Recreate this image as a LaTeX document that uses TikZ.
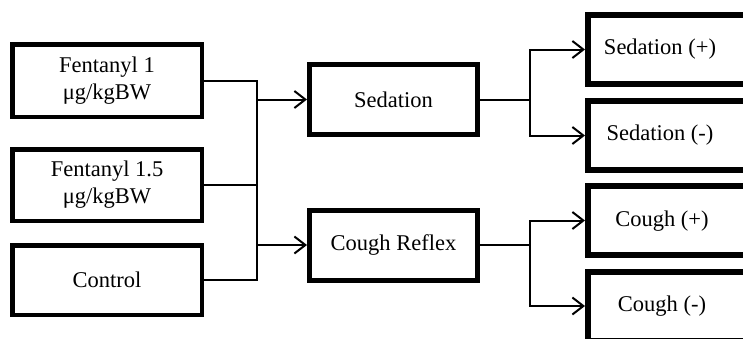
\documentclass[tikz,border=0pt]{standalone}
\usepackage{fontspec}
\setmainfont{Liberation Serif}
\usetikzlibrary{arrows.meta}
\begin{document}
\begin{tikzpicture}[x=1pt,y=-1pt,
  every node/.style={font=\fontsize{22.5}{27}\selectfont, align=center, inner sep=0pt},
  lbox/.style={draw, line width=4.5pt, minimum width=189.5pt},
  mbox/.style={draw, line width=5pt, minimum width=168pt, minimum height=70pt},
  rbox/.style={draw, line width=6pt, minimum width=220pt, minimum height=69pt, anchor=west},
  conn/.style={line width=2pt},
  arr/.style={conn, -{Straight Barb[length=11pt,width=17pt]}}]
\useasboundingbox (0,0) rectangle (743,338);
\clip (0,0) rectangle (743,338);
\fill[white] (0,0) rectangle (743,338);
% left boxes
\node[lbox, minimum height=72.5pt] (f1) at (107,80.5) {Fentanyl 1\\μg/kgBW};
\node[lbox, minimum height=71.5pt] (f15) at (107,185) {Fentanyl 1.5\\μg/kgBW};
\node[lbox, minimum height=69.5pt] (ctl) at (107,280) {Control};
% middle boxes
\node[mbox] (sed) at (393.5,99.5) {Sedation};
\node[mbox] (cr) at (393.5,245) {Cough Reflex};
% right boxes
\node[rbox] (sp) at (585,49.5) {};
\node[rbox] (sm) at (585,135.5) {};
\node[rbox] (cp) at (585,220.5) {};
\node[rbox] (cm) at (585,306) {};
\node (tsp) at (660,49) {Sedation (+)};
\node (tsm) at (660,135) {Sedation (-)};
\node (tcp) at (662,221) {Cough (+)};
\node (tcm) at (662,306) {Cough (-)};
% junctions
\coordinate (j1) at (257,0);
\coordinate (j2) at (530,0);
% left connectors
\draw[conn] (f1.east) -| (j1 |- ctl.east) -- (ctl.east);
\draw[conn] (f15.east) -- (j1 |- f15.east);
\draw[arr] (j1 |- sed.west) -- (sed.west);
\draw[arr] (j1 |- cr.west) -- (cr.west);
% right connectors
\draw[conn] (sed.east) -- (j2 |- sed.east);
\draw[arr] (j2 |- sed.east) |- (sp.west);
\draw[arr] (j2 |- sed.east) |- (sm.west);
\draw[conn] (cr.east) -- (j2 |- cr.east);
\draw[arr] (j2 |- cr.east) |- (cp.west);
\draw[arr] (j2 |- cr.east) |- (cm.west);
\end{tikzpicture}
\end{document}
